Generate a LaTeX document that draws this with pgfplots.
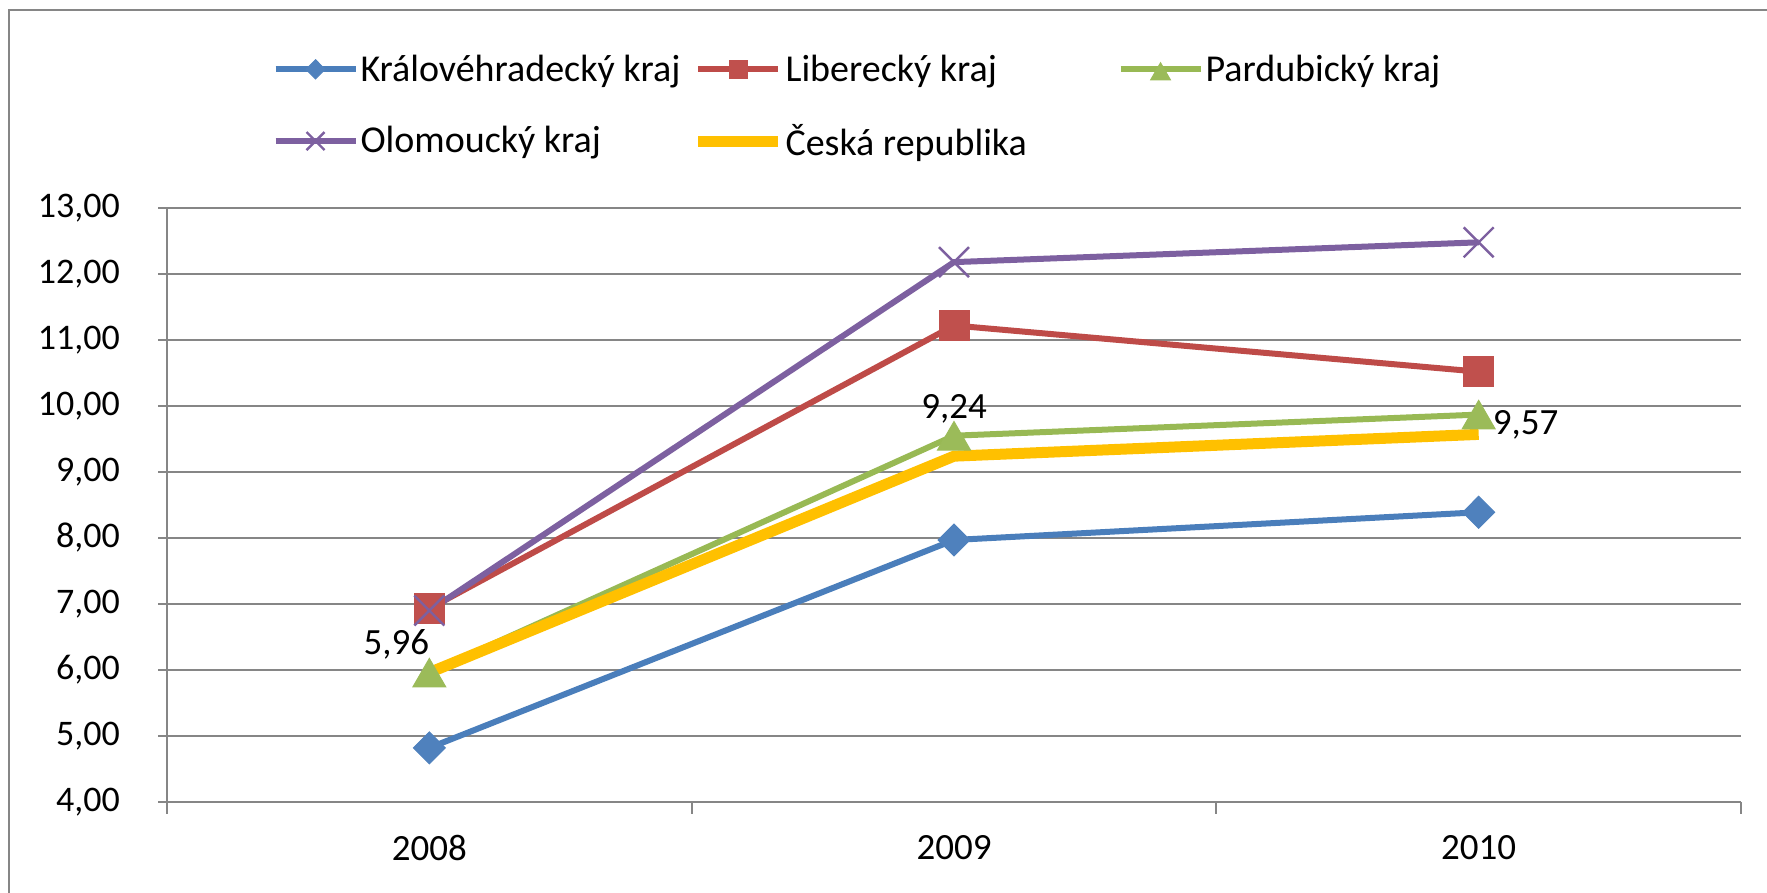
\documentclass[border=0pt]{standalone}
\usepackage{pgfplots}
\pgfplotsset{compat=1.18}
\usepackage{fontspec}
\setmainfont{Carlito}
\definecolor{kblue}{HTML}{4A7EBB}
\definecolor{kbluem}{HTML}{4F81BD}
\definecolor{lred}{HTML}{BE4B48}
\definecolor{lredm}{HTML}{C0504D}
\definecolor{pgreen}{HTML}{98B954}
\definecolor{pgreenm}{HTML}{9BBB59}
\definecolor{opurple}{HTML}{7D60A0}
\definecolor{cryellow}{HTML}{FFC000}
\definecolor{gridgray}{HTML}{868686}
\pgfplotstableread{
x y lab dx dy
0 5.96 5,96 -16.5 14
1 9.24 9,24 0 23.5
2 9.57 9,57 23.5 4.7
}\crtable
\begin{document}
\begin{tikzpicture}
\useasboundingbox (0,0) rectangle (883.5pt,446.5pt);
\draw[gridgray, line width=1.2pt] (890pt,441.5pt) -- (4.5pt,441.5pt) -- (4.5pt,-5pt);
\begin{axis}[
  at={(83.5pt,45.5pt)}, anchor=south west,
  scale only axis, width=787pt, height=297pt,
  xmin=-0.5, xmax=2.5, ymin=4, ymax=13,
  clip=false,
  xtick={0,1,2}, xticklabels={2008,2009,2010},
  minor xtick={-0.5,0.5,1.5,2.5},
  ytick={4,5,...,13},
  axis x line*=bottom, axis y line*=left,
  axis line style={gridgray, line width=1.1pt, -},
  ymajorgrids, grid style={gridgray, line width=1.1pt},
  tick align=outside,
  major tick length=4.5pt, minor tick length=6pt,
  major x tick style={draw=none},
  minor x tick style={gridgray, line width=1.1pt},
  y tick style={gridgray, line width=1.1pt},
  tick label style={font=\fontsize{18.5}{22}\selectfont},
  x tick label style={yshift=-8.5pt},
  y tick label style={font=\fontsize{18}{22}\selectfont, xshift=-15.5pt, /pgf/number format/.cd, fixed, fixed zerofill, precision=2, use comma, assume math mode=true, /tikz/.cd},
  legend columns=3,
  legend image code/.code={\draw[mark repeat=2,mark phase=2,#1, every mark/.append style={scale=0.6}] plot coordinates {(0pt,0pt) (20pt,0pt) (40pt,0pt)};},
  legend style={at={(axis description cs:0.0668,1.2656)}, anchor=north west, draw=none, fill=none, inner sep=0pt,
    font=\fontsize{19}{22}\selectfont, row sep=16pt,
    /tikz/every odd column/.append style={column sep=-1pt}},
  legend cell align=left,
]
\addplot[kblue, line width=3pt, mark=diamond*, mark size=8pt, mark options={fill=kbluem, draw=kbluem, line width=0.5pt, xscale=1.33}] coordinates {(0,4.82) (1,7.97) (2,8.39)};
\addlegendentry{\makebox[164pt][l]{Královéhradecký kraj}}
\addplot[lred, line width=3pt, mark=square*, mark size=7.5pt, mark options={fill=lredm, draw=lredm, line width=0.5pt}] coordinates {(0,6.93) (1,11.22) (2,10.52)};
\addlegendentry{\makebox[164pt][l]{Liberecký kraj}}
\addplot[pgreen, line width=3pt, mark=triangle*, mark size=9.5pt, mark options={fill=pgreenm, draw=pgreenm, line width=0.5pt, yshift=-2.4pt}] coordinates {(0,5.96) (1,9.55) (2,9.87)};
\addlegendentry{Pardubický kraj}
\addplot[opurple, line width=3pt, mark=x, mark size=10.6pt, mark options={line width=1.2pt}] coordinates {(0,6.9) (1,12.18) (2,12.48)};
\addlegendentry{\makebox[164pt][l]{Olomoucký kraj}}
\addplot[cryellow, line width=5.5pt, no marks, nodes near coords, point meta=explicit symbolic,
  visualization depends on={\thisrow{dx} \as \dx},
  visualization depends on={\thisrow{dy} \as \dy},
  every node near coord/.append style={anchor=center, xshift=\dx pt, yshift=\dy pt, text=black, font=\fontsize{18.5}{22}\selectfont}]
  table[x=x, y=y, meta=lab] {\crtable};
\addlegendentry{Česká republika}
\end{axis}
\end{tikzpicture}
\end{document}
